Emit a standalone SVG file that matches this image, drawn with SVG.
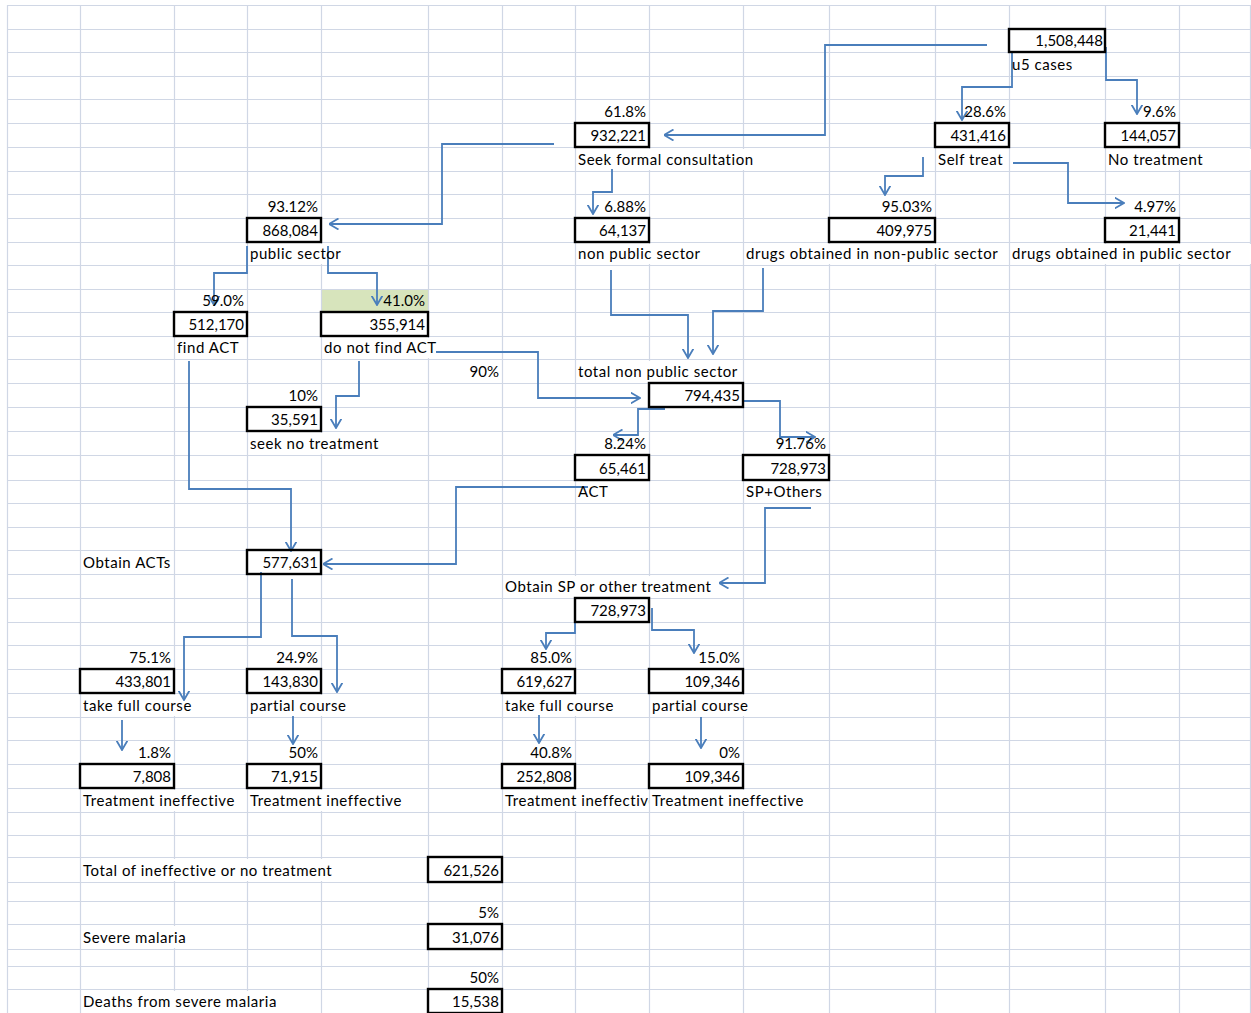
<svg xmlns="http://www.w3.org/2000/svg" width="1251" height="1013" viewBox="0 0 1251 1013">
<style>
.grid{stroke:#d0d7e5;stroke-width:1.2;fill:none}
.cov{fill:#ffffff}
.box{fill:none;stroke:#000;stroke-width:2.4}
text{font-family:Lato,"Liberation Sans",sans-serif;font-size:15px;fill:#000;letter-spacing:0.55px}
.r{text-anchor:end;letter-spacing:0}
.c{fill:none;stroke:#4a7ebb;stroke-width:1.8;marker-end:url(#arr)}
</style>
<defs>
<marker id="arr" viewBox="0 0 10 12" refX="9.5" refY="6" markerWidth="10" markerHeight="12" markerUnits="userSpaceOnUse" orient="auto">
<path d="M0,0.5 L9.5,6 L0,11.5" fill="none" stroke="#4a7ebb" stroke-width="1.8"/>
</marker>
<clipPath id="clipTI"><rect x="502" y="788" width="147" height="24"/></clipPath>
</defs>
<rect x="0" y="0" width="1251" height="1013" fill="#fff"/>
<g id="grid">
<rect x="321" y="289" width="107" height="23" fill="#d7e4bc"/>
<path class="grid" d="M7.5,5V1013M80.5,5V1013M174.5,5V1013M247.5,5V1013M321.5,5V1013M428.5,5V1013M502.5,5V1013M575.5,5V1013M649.5,5V1013M743.5,5V1013M829.5,5V1013M935.5,5V1013M1009.5,5V1013M1105.5,5V1013M1179.5,5V1013M1250.5,5V1013"/>
<path class="grid" d="M7,5.5H1251M7,29.5H1251M7,52.5H1251M7,76.5H1251M7,99.5H1251M7,123.5H1251M7,147.5H1251M7,171.5H1251M7,194.5H1251M7,218.5H1251M7,242.5H1251M7,265.5H1251M7,289.5H1251M7,312.5H1251M7,336.5H1251M7,359.5H1251M7,383.5H1251M7,407.5H1251M7,431.5H1251M7,455.5H1251M7,480.5H1251M7,503.5H1251M7,527.5H1251M7,550.5H1251M7,574.5H1251M7,598.5H1251M7,622.5H1251M7,645.5H1251M7,669.5H1251M7,693.5H1251M7,717.5H1251M7,740.5H1251M7,764.5H1251M7,788.5H1251M7,812.5H1251M7,835.5H1251M7,857.5H1251M7,882.5H1251M7,901.5H1251M7,924.5H1251M7,949.5H1251M7,966.5H1251M7,989.5H1251"/>
<rect class="cov" x="577" y="149" width="251" height="21"/>
<rect class="cov" x="1107" y="149" width="144" height="21"/>
<rect class="cov" x="249" y="244" width="178" height="20"/>
<rect class="cov" x="577" y="244" width="165" height="20"/>
<rect class="cov" x="745" y="244" width="263" height="20"/>
<rect class="cov" x="1011" y="244" width="240" height="20"/>
<rect class="cov" x="323" y="338" width="178" height="20"/>
<rect class="cov" x="577" y="361" width="165" height="21"/>
<rect class="cov" x="249" y="433" width="178" height="21"/>
<rect class="cov" x="504" y="576" width="238" height="21"/>
<rect class="cov" x="82" y="695" width="164" height="21"/>
<rect class="cov" x="249" y="695" width="178" height="21"/>
<rect class="cov" x="504" y="695" width="144" height="21"/>
<rect class="cov" x="651" y="695" width="177" height="21"/>
<rect class="cov" x="82" y="790" width="164" height="21"/>
<rect class="cov" x="249" y="790" width="178" height="21"/>
<rect class="cov" x="504" y="790" width="144" height="21"/>
<rect class="cov" x="651" y="790" width="177" height="21"/>
<rect class="cov" x="82" y="859" width="345" height="22"/>
<rect class="cov" x="82" y="926" width="164" height="22"/>
<rect class="cov" x="82" y="991" width="238" height="22"/>
</g>
<g id="connectors">
<path class="c" d="M987,45H825V135H664"/>
<path class="c" d="M1012,52V87H962V120"/>
<path class="c" d="M1106,47V80H1137V114"/>
<path class="c" d="M923,157V176H885V195"/>
<path class="c" d="M1013,163H1068V203H1124"/>
<path class="c" d="M554,144H442V224H329"/>
<path class="c" d="M612,169V192H593V214"/>
<path class="c" d="M247,246V273H214V305"/>
<path class="c" d="M328,246V273H377V305"/>
<path class="c" d="M436,352H538V398H640"/>
<path class="c" d="M359,361V396H336V428"/>
<path class="c" d="M611,270V315H688V358"/>
<path class="c" d="M763,268V311H713V354"/>
<path class="c" d="M665,409H638V435H613"/>
<path class="c" d="M743,401H780V437H815"/>
<path class="c" d="M588,487H456V564H323"/>
<path class="c" d="M189,361V489H291V551"/>
<path class="c" d="M811,508H765V583H719"/>
<path class="c" d="M261,572V637H184V700"/>
<path class="c" d="M292,579V636H337V692"/>
<path class="c" d="M122,720V750"/>
<path class="c" d="M293,716V744"/>
<path class="c" d="M575,617V633H546V649"/>
<path class="c" d="M652,608V630H694V653"/>
<path class="c" d="M539,715V743"/>
<path class="c" d="M701,717V748"/>
<text class="r" x="499" y="377">90%</text>
</g>
<g id="n_u5"><rect class="box" x="1009" y="29" width="96" height="23"/><text class="r" x="1103" y="46">1,508,448</text><text x="1012" y="70">u5 cases</text></g>
<g id="n_seek"><text class="r" x="646" y="117">61.8%</text><rect class="box" x="575" y="123" width="74" height="24"/><text class="r" x="646" y="141">932,221</text><text x="578" y="165">Seek formal consultation</text></g>
<g id="n_self"><text class="r" x="1006" y="117">28.6%</text><rect class="box" x="935" y="123" width="74" height="24"/><text class="r" x="1006" y="141">431,416</text><text x="938" y="165">Self treat</text></g>
<g id="n_notreat"><text class="r" x="1176" y="117">9.6%</text><rect class="box" x="1105" y="123" width="74" height="24"/><text class="r" x="1176" y="141">144,057</text><text x="1108" y="165">No treatment</text></g>
<g id="n_public"><text class="r" x="318" y="212">93.12%</text><rect class="box" x="247" y="218" width="74" height="24"/><text class="r" x="318" y="236">868,084</text><text x="250" y="259">public sector</text></g>
<g id="n_nonpublic"><text class="r" x="646" y="212">6.88%</text><rect class="box" x="575" y="218" width="74" height="24"/><text class="r" x="646" y="236">64,137</text><text x="578" y="259">non public sector</text></g>
<g id="n_drugs_np"><text class="r" x="932" y="212">95.03%</text><rect class="box" x="829" y="218" width="106" height="24"/><text class="r" x="932" y="236">409,975</text><text x="746" y="259">drugs obtained in non-public sector</text></g>
<g id="n_drugs_p"><text class="r" x="1176" y="212">4.97%</text><rect class="box" x="1105" y="218" width="74" height="24"/><text class="r" x="1176" y="236">21,441</text><text x="1012" y="259">drugs obtained in public sector</text></g>
<g id="n_find"><text class="r" x="244" y="306">59.0%</text><rect class="box" x="174" y="312" width="73" height="24"/><text class="r" x="244" y="330">512,170</text><text x="177" y="353">find ACT</text></g>
<g id="n_notfind"><text class="r" x="425" y="306">41.0%</text><rect class="box" x="321" y="312" width="107" height="24"/><text class="r" x="425" y="330">355,914</text><text x="324" y="353">do not find ACT</text></g>
<g id="n_totalnp"><text x="578" y="377">total non public sector</text><rect class="box" x="649" y="383" width="94" height="24"/><text class="r" x="740" y="401">794,435</text></g>
<g id="n_seekno"><text class="r" x="318" y="401">10%</text><rect class="box" x="247" y="407" width="74" height="24"/><text class="r" x="318" y="425">35,591</text><text x="250" y="449">seek no treatment</text></g>
<g id="n_act"><text class="r" x="646" y="449">8.24%</text><rect class="box" x="575" y="455" width="74" height="25"/><text class="r" x="646" y="474">65,461</text><text x="578" y="497">ACT</text></g>
<g id="n_sp"><text class="r" x="826" y="449">91.76%</text><rect class="box" x="743" y="455" width="86" height="25"/><text class="r" x="826" y="474">728,973</text><text x="746" y="497">SP+Others</text></g>
<g id="n_obtainact"><text x="83" y="568">Obtain ACTs</text><rect class="box" x="247" y="550" width="74" height="24"/><text class="r" x="318" y="568">577,631</text></g>
<g id="n_obtainsp"><text x="505" y="592">Obtain SP or other treatment</text><rect class="box" x="575" y="598" width="74" height="24"/><text class="r" x="646" y="616">728,973</text></g>
<g id="n_act_full"><text class="r" x="171" y="663">75.1%</text><rect class="box" x="80" y="669" width="94" height="24"/><text class="r" x="171" y="687">433,801</text><text x="83" y="711">take full course</text></g>
<g id="n_act_partial"><text class="r" x="318" y="663">24.9%</text><rect class="box" x="247" y="669" width="74" height="24"/><text class="r" x="318" y="687">143,830</text><text x="250" y="711">partial course</text></g>
<g id="n_sp_full"><text class="r" x="572" y="663">85.0%</text><rect class="box" x="502" y="669" width="73" height="24"/><text class="r" x="572" y="687">619,627</text><text x="505" y="711">take full course</text></g>
<g id="n_sp_partial"><text class="r" x="740" y="663">15.0%</text><rect class="box" x="649" y="669" width="94" height="24"/><text class="r" x="740" y="687">109,346</text><text x="652" y="711">partial course</text></g>
<g id="n_ineff1"><text class="r" x="171" y="758">1.8%</text><rect class="box" x="80" y="764" width="94" height="24"/><text class="r" x="171" y="782">7,808</text><text x="83" y="806">Treatment ineffective</text></g>
<g id="n_ineff2"><text class="r" x="318" y="758">50%</text><rect class="box" x="247" y="764" width="74" height="24"/><text class="r" x="318" y="782">71,915</text><text x="250" y="806">Treatment ineffective</text></g>
<g id="n_ineff3"><text class="r" x="572" y="758">40.8%</text><rect class="box" x="502" y="764" width="73" height="24"/><text class="r" x="572" y="782">252,808</text><text x="505" y="806" clip-path="url(#clipTI)">Treatment ineffective</text></g>
<g id="n_ineff4"><text class="r" x="740" y="758">0%</text><rect class="box" x="649" y="764" width="94" height="24"/><text class="r" x="740" y="782">109,346</text><text x="652" y="806">Treatment ineffective</text></g>
<g id="n_total"><text x="83" y="876">Total of ineffective or no treatment</text><rect class="box" x="428" y="857" width="74" height="25"/><text class="r" x="499" y="876">621,526</text></g>
<g id="n_severe"><text class="r" x="499" y="918">5%</text><text x="83" y="943">Severe malaria</text><rect class="box" x="428" y="924" width="74" height="25"/><text class="r" x="499" y="943">31,076</text></g>
<g id="n_deaths"><text class="r" x="499" y="983">50%</text><text x="83" y="1007">Deaths from severe malaria</text><rect class="box" x="428" y="989" width="74" height="24"/><text class="r" x="499" y="1007">15,538</text></g>
</svg>
